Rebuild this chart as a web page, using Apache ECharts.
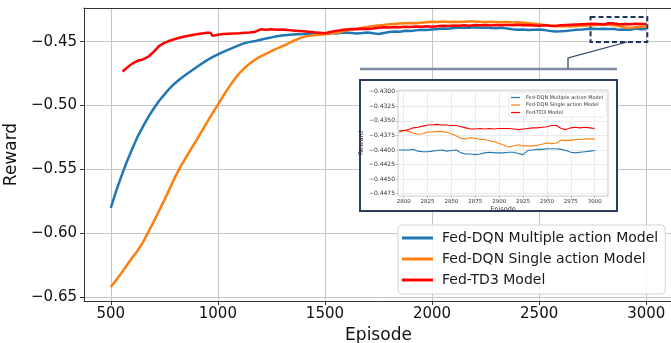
<!DOCTYPE html>
<html>
<head>
<meta charset="utf-8">
<script src="https://cdn.jsdelivr.net/npm/echarts@6/dist/echarts.min.js"></script>
<style>html,body{margin:0;padding:0;background:#fff}#c{width:671px;height:343px}</style>
</head>
<body>
<div id="c"></div>
<script>
// ---------- DATA ----------
const seriesNames = ['Fed-DQN Multiple action Model', 'Fed-DQN Single action Model', 'Fed-TD3 Model'];

const mainEpisodes = [500,525,550,575,600,625,650,675,700,725,750,775,800,825,850,875,900,925,950,975,
1000,1025,1050,1075,1100,1125,1150,1175,1200,1225,1250,1275,1300,1325,1350,1375,1400,1425,1450,1475,
1500,1525,1550,1575,1600,1625,1650,1675,1700,1725,1750,1775,1800,1825,1850,1875,1900,1925,1950,1975,
2000,2025,2050,2075,2100,2125,2150,2175,2200,2225,2250,2275,2300,2325,2350,2375,2400,2425,2450,2475,
2500,2525,2550,2575,2600,2625,2650,2675,2700,2725,2750,2775,2800,2825,2850,2875,2900,2925,2950,2975,3000];

const blueMain = [-0.5800,-0.5670,-0.5550,-0.5440,-0.5340,-0.5245,-0.5165,-0.5090,-0.5025,-0.4965,-0.4915,-0.4865,-0.4825,-0.4790,-0.4760,-0.4730,-0.4700,-0.4672,-0.4645,-0.4622,
-0.4600,-0.4580,-0.4562,-0.4545,-0.4528,-0.4512,-0.4502,-0.4495,-0.4485,-0.4475,-0.4467,-0.4458,-0.4452,-0.4448,-0.4445,-0.4442,-0.4440,-0.4437,-0.4438,-0.4440,
-0.4437,-0.4432,-0.4436,-0.4430,-0.4428,-0.4432,-0.4436,-0.4433,-0.4428,-0.4435,-0.4440,-0.4432,-0.4425,-0.4420,-0.4422,-0.4415,-0.4417,-0.4412,-0.4408,-0.4410,
-0.4406,-0.4402,-0.4398,-0.4400,-0.4394,-0.4391,-0.4389,-0.4392,-0.4388,-0.4391,-0.4389,-0.4393,-0.4395,-0.4392,-0.4398,-0.4404,-0.4408,-0.4406,-0.4410,-0.4408,
-0.4406,-0.4410,-0.4416,-0.4421,-0.4419,-0.4416,-0.4412,-0.4408,-0.4405,-0.4401,-0.4399,-0.4402,-0.4400,-0.4402,-0.4401,-0.4408,-0.4405,-0.4407,-0.4398,-0.4404,-0.4401];

const orangeMain = [-0.6420,-0.6365,-0.6310,-0.6250,-0.6190,-0.6135,-0.6070,-0.5990,-0.5910,-0.5825,-0.5740,-0.5650,-0.5560,-0.5480,-0.5410,-0.5340,-0.5270,-0.5200,-0.5130,-0.5060,
-0.4995,-0.4925,-0.4860,-0.4800,-0.4748,-0.4705,-0.4670,-0.4640,-0.4615,-0.4595,-0.4575,-0.4555,-0.4537,-0.4517,-0.4497,-0.4478,-0.4463,-0.4455,-0.4450,-0.4447,
-0.4442,-0.4438,-0.4430,-0.4422,-0.4414,-0.4405,-0.4398,-0.4391,-0.4385,-0.4378,-0.4373,-0.4369,-0.4365,-0.4362,-0.4359,-0.4357,-0.4355,-0.4356,-0.4352,-0.4348,
-0.4345,-0.4346,-0.4343,-0.4346,-0.4344,-0.4347,-0.4345,-0.4343,-0.4342,-0.4345,-0.4347,-0.4344,-0.4346,-0.4349,-0.4347,-0.4351,-0.4349,-0.4353,-0.4357,-0.4361,
-0.4365,-0.4369,-0.4373,-0.4377,-0.4379,-0.4377,-0.4381,-0.4378,-0.4375,-0.4373,-0.4371,-0.4369,-0.4366,-0.4369,-0.4372,-0.4380,-0.4389,-0.4393,-0.4388,-0.4383,-0.4381];

const redEpisodes = [555,575,600,625,650,675,700,725,750,775,800,825,850,875,900,925,950,965,975,
1000,1025,1050,1075,1100,1125,1150,1175,1200,1225,1250,1275,1300,1325,1350,1375,1400,1425,1450,1475,
1500,1525,1550,1575,1600,1625,1650,1675,1700,1725,1750,1775,1800,1825,1850,1875,1900,1925,1950,1975,
2000,2025,2050,2075,2100,2125,2150,2175,2200,2225,2250,2275,2300,2325,2350,2375,2400,2425,2450,2475,
2500,2525,2550,2575,2600,2625,2650,2675,2700,2725,2750,2775,2800,2825,2850,2875,2900,2925,2950,2975,3000];

const redMain = [-0.4734,-0.4705,-0.4672,-0.4650,-0.4640,-0.4618,-0.4580,-0.4535,-0.4510,-0.4493,-0.4480,-0.4468,-0.4458,-0.4450,-0.4443,-0.4436,-0.4430,-0.4430,-0.4455,
-0.4447,-0.4441,-0.4438,-0.4436,-0.4434,-0.4431,-0.4429,-0.4422,-0.4404,-0.4407,-0.4404,-0.4408,-0.4405,-0.4410,-0.4413,-0.4416,-0.4419,-0.4423,-0.4427,-0.4430,
-0.4434,-0.4425,-0.4416,-0.4410,-0.4405,-0.4401,-0.4403,-0.4399,-0.4401,-0.4398,-0.4392,-0.4388,-0.4390,-0.4386,-0.4388,-0.4384,-0.4386,-0.4382,-0.4384,-0.4380,
-0.4383,-0.4380,-0.4376,-0.4378,-0.4374,-0.4376,-0.4372,-0.4375,-0.4370,-0.4372,-0.4370,-0.4373,-0.4370,-0.4372,-0.4369,-0.4371,-0.4368,-0.4372,-0.4370,-0.4373,
-0.4375,-0.4372,-0.4376,-0.4378,-0.4372,-0.4370,-0.4368,-0.4366,-0.4364,-0.4362,-0.4360,-0.4362,-0.4366,-0.4357,-0.4358,-0.4364,-0.4363,-0.4364,-0.4360,-0.4362,-0.4363];

const mainXTicks = [500, 1000, 1500, 2000, 2500, 3000];
const mainYTicks = [-0.65, -0.60, -0.55, -0.50, -0.45];

const insetEpisodes = [2795,2800,2805,2810,2815,2820,2825,2830,2835,2840,2845,2850,2855,2860,2865,2870,2875,2880,2885,2890,
2895,2900,2905,2910,2915,2920,2925,2930,2935,2940,2945,2950,2955,2960,2965,2970,2975,2980,2985,2990,2995,3000];

const insetBlue = [-0.4400,-0.4400,-0.4400,-0.4399,-0.4402,-0.4403,-0.4403,-0.4402,-0.4401,-0.4400,-0.4402,-0.4401,-0.4400,-0.4405,-0.4407,-0.4407,-0.4408,-0.4407,-0.4405,-0.4404,
-0.4405,-0.4405,-0.4405,-0.4404,-0.4404,-0.4406,-0.4408,-0.4401,-0.4400,-0.4399,-0.4399,-0.4398,-0.4398,-0.4398,-0.4399,-0.4401,-0.4404,-0.4405,-0.4404,-0.4403,-0.4402,-0.4401];

const insetOrange = [-0.4370,-0.4366,-0.4368,-0.4371,-0.4373,-0.4372,-0.4369,-0.4369,-0.4368,-0.4368,-0.4370,-0.4372,-0.4376,-0.4380,-0.4381,-0.4379,-0.4380,-0.4382,-0.4382,-0.4384,
-0.4386,-0.4389,-0.4392,-0.4395,-0.4393,-0.4391,-0.4393,-0.4393,-0.4393,-0.4392,-0.4390,-0.4388,-0.4389,-0.4388,-0.4383,-0.4384,-0.4383,-0.4382,-0.4382,-0.4381,-0.4381,-0.4381];

const insetRed = [-0.4367,-0.4367,-0.4365,-0.4362,-0.4361,-0.4359,-0.4357,-0.4357,-0.4356,-0.4357,-0.4357,-0.4358,-0.4358,-0.4360,-0.4362,-0.4364,-0.4364,-0.4363,-0.4364,-0.4363,
-0.4364,-0.4363,-0.4363,-0.4363,-0.4364,-0.4365,-0.4364,-0.4363,-0.4362,-0.4362,-0.4361,-0.4360,-0.4358,-0.4358,-0.4363,-0.4365,-0.4362,-0.4361,-0.4362,-0.4361,-0.4362,-0.4363];

const insetXTicks = [2800, 2825, 2850, 2875, 2900, 2925, 2950, 2975, 3000];
const insetYTicks = [-0.4300, -0.4325, -0.4350, -0.4375, -0.4400, -0.4425, -0.4450, -0.4475];

// zoom window marked on the main plot
const zoomBoxX = [2740, 3005];
const zoomBoxY = [-0.4307, -0.4502];

// ---------- BUILD ----------
const colors = ['#1f77b4', '#ff7f0e', '#ff0000'];
const FONT = 'DejaVu Sans';
const zip = (xs, ys) => xs.map((x, i) => [x, ys[i]]);
const minus = (v, d) => (v < 0 ? '\u2212' : '') + Math.abs(v).toFixed(d);
const SPINE = {show: true, lineStyle: {color: '#333', width: 1}};

const chart = echarts.init(document.getElementById('c'), null, {renderer: 'canvas'});

const option = {
  animation: false,
  textStyle: {fontFamily: FONT},
  grid: [
    {left: 84, top: 8, width: 589, height: 293, containLabel: false, outerBoundsMode: 'none',
      show: false, z: 0},
    {left: 398, top: 90, width: 210, height: 106, containLabel: false, outerBoundsMode: 'none',
      show: true, borderColor: '#bdbdbd', borderWidth: 0.8, backgroundColor: '#fff', z: 3}
  ],
  xAxis: [
    {
      gridIndex: 0, type: 'value', min: 375, max: 3125, position: 'bottom',
      name: 'Episode', nameLocation: 'middle', nameGap: 23,
      nameTextStyle: {fontSize: 17, color: '#111', fontFamily: FONT},
      axisLine: SPINE,
      axisTick: {show: true, length: 4, customValues: mainXTicks, lineStyle: {color: '#333'}},
      axisLabel: {customValues: mainXTicks, fontSize: 15, color: '#111', margin: 6, fontFamily: FONT,
        formatter: v => String(v)},
      splitLine: {show: true, lineStyle: {color: '#c6c6c6', width: 1}}
    },
    {
      gridIndex: 1, type: 'value', min: 2794, max: 3014, z: 3,
      name: 'Episode', nameLocation: 'middle', nameGap: 8,
      nameTextStyle: {fontSize: 6.5, color: '#333', fontFamily: FONT},
      axisLine: {show: false},
      axisTick: {show: true, length: 2, customValues: insetXTicks, lineStyle: {color: '#999', width: 0.6}},
      axisLabel: {customValues: insetXTicks, fontSize: 5.5, color: '#333', margin: 2.5, fontFamily: FONT,
        formatter: v => String(v)},
      splitLine: {show: true, lineStyle: {color: '#e3e3e3', width: 0.7}}
    },
    {
      // top spine of the main axes
      gridIndex: 0, type: 'value', min: 375, max: 3125, position: 'top',
      axisLine: SPINE, axisTick: {show: false}, axisLabel: {show: false}, splitLine: {show: false}
    }
  ],
  yAxis: [
    {
      gridIndex: 0, type: 'value', min: -0.6529, max: -0.4237, position: 'left',
      name: 'Reward', nameLocation: 'middle', nameGap: 58, nameRotate: 90,
      nameTextStyle: {fontSize: 17, color: '#111', fontFamily: FONT},
      axisLine: SPINE,
      axisTick: {show: true, length: 4, customValues: mainYTicks, lineStyle: {color: '#333'}},
      axisLabel: {customValues: mainYTicks, fontSize: 15, color: '#111', margin: 7, fontFamily: FONT,
        formatter: v => minus(v, 2)},
      splitLine: {show: true, lineStyle: {color: '#c6c6c6', width: 1}}
    },
    {
      gridIndex: 1, type: 'value', min: -0.4479, max: -0.4297, z: 3,
      name: 'Reward', nameLocation: 'middle', nameGap: 30, nameRotate: 90,
      nameTextStyle: {fontSize: 6.5, color: '#333', fontFamily: FONT},
      axisLine: {show: false},
      axisTick: {show: true, length: 2, customValues: insetYTicks, lineStyle: {color: '#999', width: 0.6}},
      axisLabel: {customValues: insetYTicks, fontSize: 6, color: '#333', margin: 3, fontFamily: FONT,
        formatter: v => minus(v, 4)},
      splitLine: {show: true, lineStyle: {color: '#e3e3e3', width: 0.7}}
    }
  ],
  legend: [
    {
      data: seriesNames, orient: 'vertical', left: 398, top: 225,
      icon: 'rect', itemWidth: 31, itemHeight: 3, itemGap: 7,
      padding: [6, 7, 7, 4],
      backgroundColor: 'rgba(255,255,255,0.85)', borderColor: '#d4d4d4', borderWidth: 1, borderRadius: 4,
      textStyle: {fontSize: 14, color: '#1a1a1a', fontFamily: FONT, padding: [0, 0, 0, 4]},
      selectedMode: false, z: 6
    },
    {
      data: seriesNames, orient: 'vertical', left: 509, top: 93,
      icon: 'rect', itemWidth: 9, itemHeight: 1.2, itemGap: 2.5,
      padding: [2, 3, 2, 2],
      backgroundColor: 'rgba(255,255,255,0.9)', borderColor: '#dcdcdc', borderWidth: 0.6, borderRadius: 1.5,
      textStyle: {fontSize: 5, color: '#333', fontFamily: FONT, padding: [0, 0, 0, 1]},
      selectedMode: false, z: 7
    }
  ],
  graphic: [
    {type: 'rect', z: 1, shape: {x: 360, y: 80, width: 257, height: 131},
      style: {fill: '#ffffff', stroke: '#2b3d60', lineWidth: 2}},
    {type: 'line', z: 1, shape: {x1: 360, y1: 69, x2: 617, y2: 69},
      style: {stroke: '#7d8ca3', lineWidth: 2.5}},
    {type: 'polyline', z: 1, shape: {points: [[568, 69], [568, 58], [627, 42]]},
      style: {stroke: '#2b3d60', lineWidth: 1.2, fill: null}}
  ],
  series: [
    {name: seriesNames[0], type: 'line', xAxisIndex: 0, yAxisIndex: 0, data: zip(mainEpisodes, blueMain),
      showSymbol: false, lineStyle: {width: 2.5, color: colors[0]}, itemStyle: {color: colors[0]}, z: 2,
      markArea: {silent: true, itemStyle: {color: 'rgba(0,0,0,0)', borderColor: '#1f3358', borderWidth: 2, borderType: [5, 3]},
        data: [[{xAxis: zoomBoxX[0], yAxis: zoomBoxY[0]}, {xAxis: zoomBoxX[1], yAxis: zoomBoxY[1]}]]}},
    {name: seriesNames[1], type: 'line', xAxisIndex: 0, yAxisIndex: 0, data: zip(mainEpisodes, orangeMain),
      showSymbol: false, lineStyle: {width: 2.5, color: colors[1]}, itemStyle: {color: colors[1]}, z: 2},
    {name: seriesNames[2], type: 'line', xAxisIndex: 0, yAxisIndex: 0, data: zip(redEpisodes, redMain),
      showSymbol: false, lineStyle: {width: 2.5, color: colors[2]}, itemStyle: {color: colors[2]}, z: 2},
    {name: seriesNames[0], type: 'line', xAxisIndex: 1, yAxisIndex: 1, data: zip(insetEpisodes, insetBlue),
      showSymbol: false, lineStyle: {width: 1.1, color: colors[0]}, itemStyle: {color: colors[0]}, z: 5, clip: true},
    {name: seriesNames[1], type: 'line', xAxisIndex: 1, yAxisIndex: 1, data: zip(insetEpisodes, insetOrange),
      showSymbol: false, lineStyle: {width: 1.1, color: colors[1]}, itemStyle: {color: colors[1]}, z: 5, clip: true},
    {name: seriesNames[2], type: 'line', xAxisIndex: 1, yAxisIndex: 1, data: zip(insetEpisodes, insetRed),
      showSymbol: false, lineStyle: {width: 1.1, color: colors[2]}, itemStyle: {color: colors[2]}, z: 5, clip: true}
  ]
};
chart.setOption(option);
</script>
</body>
</html>
